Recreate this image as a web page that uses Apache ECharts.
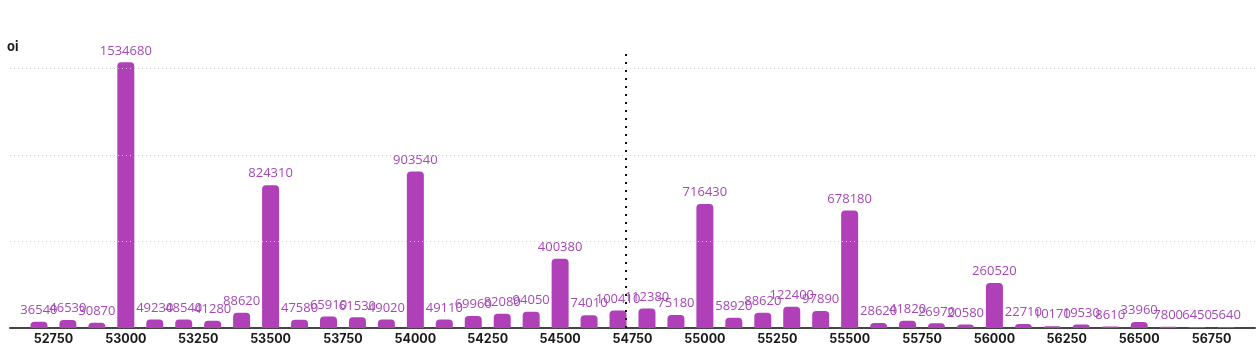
<!DOCTYPE html>
<html>
<head>
<meta charset="utf-8">
<script src="https://cdn.jsdelivr.net/npm/echarts@6/dist/echarts.min.js"></script>
<style>html,body{margin:0;padding:0;background:#fff}#c{width:1260px;height:355px}</style>
</head>
<body>
<div id="c"></div>
<script>
const strikes = [52700,52800,52900,53000,53100,53200,53300,53400,53500,53600,53700,53800,53900,54000,54100,54200,54300,54400,54500,54600,54700,54800,54900,55000,55100,55200,55300,55400,55500,55600,55700,55800,55900,56000,56100,56200,56300,56400,56500,56600,56700,56800];
const oi = [36540,46530,30870,1534680,49230,48540,41280,88620,824310,47580,65910,61530,49020,903540,49110,69960,82080,94050,400380,74010,100410,112380,75180,716430,58920,88620,122400,97890,678180,28620,41820,26970,20580,260520,22710,10170,19530,8610,33960,7800,6450,5640];
const gridValues = [500000,1000000,1500000];
const spot = 54727;

const chart = echarts.init(document.getElementById('c'), null, {renderer:'canvas'});
chart.setOption({
  animation:false,
  grid:{left:10,right:5,top:51,bottom:27,containLabel:false},
  xAxis:{
    type:'value', min:52600, max:56900, interval:50,
    axisLine:{show:true,lineStyle:{color:'#444',width:2}},
    axisTick:{show:false},
    splitLine:{show:false},
    axisLabel:{
      margin:5,
      fontFamily:'Inter', fontWeight:'bold', fontSize:12.5, color:'#1a1a1a',
      formatter:function(v){ return (v % 250 === 0) ? String(v) : ''; }
    }
  },
  yAxis:{
    type:'value', min:0, max:1600000, interval:500000,
    name:'oi', nameLocation:'end', nameGap:-3,
    nameTextStyle:{fontFamily:'Inter',fontWeight:'bold',fontSize:13,color:'#1a1a1a',align:'left',padding:[0,0,0,-3]},
    axisLine:{show:false}, axisTick:{show:false}, axisLabel:{show:false},
    splitLine:{show:false}
  },
  series:[{
    type:'bar',
    data: strikes.map((s,i)=>[s,oi[i]]),
    barWidth:17,
    itemStyle:{color:'#B040B8',borderRadius:[4,4,0,0]},
    label:{show:true,position:'top',distance:5,color:'#A548B6',fontFamily:'Open Sans',fontSize:13},
    markLine:{
      silent:true, symbol:'none', label:{show:false},
      data:[
        ...gridValues.map(v=>({yAxis:v,lineStyle:{color:'#ccc',type:[1,3],width:1}})),
        {xAxis:spot,lineStyle:{color:'#111',type:[2,6],width:2}}
      ]
    }
  }]
});
</script>
</body>
</html>
